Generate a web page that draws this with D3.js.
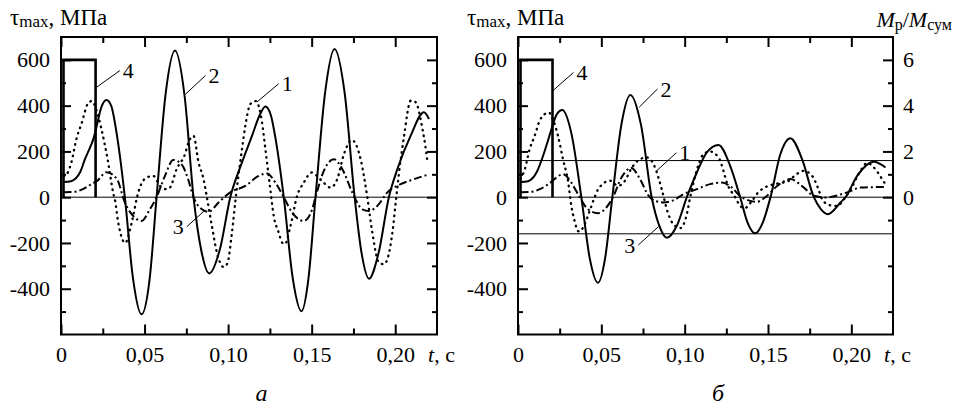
<!DOCTYPE html>
<html>
<head>
<meta charset="utf-8">
<script src="https://cdn.jsdelivr.net/npm/d3@7"></script>
<style>
  body { margin: 0; background: #fff; }
  svg { display: block; }
</style>
</head>
<body>
<svg id="chart" width="957" height="408" font-family="'Liberation Serif', 'Times New Roman', Times, serif"></svg>
<script>
const SERIF = "'Liberation Serif', 'Times New Roman', Times, serif";

// ---- axis ticks -------------------------------------------------------
const xMajor = [0, 0.05, 0.10, 0.15, 0.20];
const xMajorLabels = ["0", "0,05", "0,10", "0,15", "0,20"];
const xMinor = [0.025, 0.075, 0.125, 0.175];
const yMajor = [-400, -200, 0, 200, 400, 600];
const yMajorLabels = ["-400", "-200", "0", "200", "400", "600"];
const yMinor = [-500, -300, -100, 100, 300, 500];
const ratioLabels = ["0", "2", "4", "6"];          // M_p/M_сум on the right axis
const ratioAt = [0, 200, 400, 600];
const limitLevel = 160;                             // ±limit lines, panel б

// ---- curve 4: moment pulse (same in both panels) -----------------------
const pulse = [[0.0015, 0], [0.0015, 600], [0.0207, 600], [0.0207, 0]];

// ---- panel а: [t, τmax] ------------------------------------------------
const curve1a = [
  [0.0015, 90], [0.0042, 110], [0.0062, 152], [0.0092, 254], [0.0122, 320], [0.0162, 410],
  [0.0185, 420], [0.021, 385], [0.0242, 298], [0.0262, 230], [0.0284, 145], [0.0298, 80],
  [0.0312, 20], [0.0325, -20], [0.034, -100], [0.0355, -155], [0.0385, -200], [0.041, -150],
  [0.0432, -82], [0.0455, 0],
  [0.0472, 42], [0.051, 85], [0.0552, 93], [0.0592, 50], [0.063, 35], [0.0652, 42],
  [0.0692, 123], [0.0742, 188], [0.0763, 240], [0.0793, 268], [0.0823, 152], [0.0853, 79],
  [0.0873, 0], [0.0903, -126], [0.0933, -242], [0.0973, -305], [0.0995, -290], [0.1023, -155],
  [0.1043, -20], [0.1083, 210], [0.1103, 312], [0.1133, 407], [0.1165, 420], [0.1203, 327],
  [0.1223, 210], [0.125, 50], [0.1273, -82], [0.1303, -155], [0.1323, -198], [0.134, -205],
  [0.1373, -126], [0.1413, 6], [0.1453, 64], [0.15, 108], [0.155, 80], [0.1613, 42],
  [0.1653, 79], [0.1693, 188], [0.174, 250], [0.1793, 166], [0.1833, 0], [0.1863, -155],
  [0.1903, -286], [0.1933, -293], [0.1983, -155], [0.2003, -23], [0.2023, 108], [0.2053, 268],
  [0.2093, 422], [0.2122, 415], [0.2163, 298], [0.2183, 210], [0.2193, 152]
];
const curve2a = [
  [0.0015, 66], [0.006, 70], [0.0114, 109], [0.0144, 167], [0.0174, 218], [0.0194, 255],
  [0.0215, 315], [0.024, 390], [0.0272, 425], [0.03, 400], [0.034, 245], [0.0382, 0], [0.043, -350],
  [0.0482, -512], [0.053, -360], [0.0572, 0], [0.0625, 445], [0.0682, 641], [0.074, 440],
  [0.0793, 0], [0.084, -235], [0.0887, -333], [0.095, -230], [0.1013, 0], [0.1083, 152],
  [0.1143, 268], [0.119, 360], [0.1223, 396], [0.1255, 360], [0.128, 272], [0.1333, 0],
  [0.1386, -350], [0.1439, -498], [0.148, -360], [0.1523, 0], [0.158, 455], [0.1637, 648],
  [0.1697, 458], [0.1757, 0], [0.18, -250], [0.1843, -356], [0.19, -245], [0.1962, 0],
  [0.2013, 123], [0.2092, 268], [0.2172, 371], [0.2202, 342]
];
const curve3a = [
  [0.0015, 22], [0.0084, 24], [0.0134, 36], [0.0184, 58], [0.0214, 70], [0.0272, 109],
  [0.0334, 80], [0.0382, -23],
  [0.0442, -89], [0.0482, -104], [0.0532, -53], [0.0572, 0], [0.0622, 93], [0.0672, 163],
  [0.0725, 140], [0.076, 80], [0.0793, 0], [0.0843, -53], [0.0883, -64], [0.0943, -23],
  [0.1013, 21], [0.1103, 49], [0.1183, 93], [0.1233, 104], [0.1283, 64], [0.1333, 0],
  [0.1383, -67], [0.1453, -104], [0.1503, -53], [0.1523, 0], [0.1573, 115], [0.1633, 166],
  [0.1683, 123], [0.1743, 21], [0.1803, -53], [0.1843, -60], [0.1893, -38], [0.1953, 21],
  [0.2033, 57], [0.2113, 79], [0.2203, 100]
];

// ---- panel б: [t, τmax] ------------------------------------------------
const curve1b = [
  [0.0015, 80], [0.004, 120], [0.007, 210], [0.01, 268], [0.013, 334], [0.016, 363],
  [0.0185, 370], [0.021, 340], [0.024, 268], [0.027, 166], [0.03, 71], [0.032, -38],
  [0.034, -104], [0.036, -148], [0.037, -150], [0.04, -118], [0.043, -60], [0.046, 0],
  [0.0482, 36], [0.0552, 72], [0.06, 50], [0.064, 70], [0.068, 125],
  [0.072, 160], [0.0772, 174], [0.0822, 130], [0.0842, 87], [0.0862, 36], [0.0902, -74],
  [0.0932, -118], [0.0975, -135], [0.1013, -74], [0.1033, 0], [0.1063, 93], [0.1113, 188],
  [0.115, 200], [0.1203, 174], [0.1233, 115], [0.1253, 64], [0.1303, 0], [0.1333, -38],
  [0.136, -48], [0.14, -20], [0.144, 20], [0.15, 49], [0.156, 60], [0.162, 70],
  [0.167, 100], [0.1715, 115], [0.1765, 93], [0.18, 40], [0.1825, -9], [0.187, -35],
  [0.1915, -38], [0.196, -5], [0.2, 40], [0.2055, 115], [0.2095, 150], [0.2135, 130],
  [0.2185, 79], [0.221, 50]
];
const curve2b = [
  [0.0015, 66], [0.006, 70], [0.0114, 112], [0.015, 180], [0.0185, 260], [0.0206, 310],
  [0.0235, 365], [0.0266, 381],
  [0.032, 280], [0.038, 0], [0.043, -265], [0.048, -374], [0.0523, -265], [0.0566, 0],
  [0.062, 316], [0.0674, 447], [0.0738, 316], [0.0802, 0], [0.0848, -125], [0.0893, -177],
  [0.0953, -125], [0.1013, 0], [0.1073, 108], [0.1133, 196], [0.1203, 228], [0.1273, 137],
  [0.1333, 0], [0.1378, -112], [0.1423, -158], [0.1468, -112], [0.1515, 0], [0.1575, 190],
  [0.1634, 258], [0.1705, 165], [0.1775, 0], [0.1817, -52], [0.1859, -74], [0.1935, -23],
  [0.1965, 0], [0.2035, 93], [0.2135, 155], [0.2205, 130]
];
const curve3b = [
  [0.0015, 22], [0.0084, 24], [0.0134, 36], [0.0184, 58], [0.027, 100], [0.032, 64], [0.037, 0],
  [0.042, -53], [0.048, -70], [0.053, -45], [0.057, 0], [0.062, 85], [0.068, 128],
  [0.0732, 79], [0.078, 10], [0.083, -18], [0.0872, -23], [0.0942, -10], [0.0992, 13],
  [0.1073, 35], [0.1152, 57], [0.1222, 64], [0.1283, 42], [0.1333, 5], [0.1393, -16],
  [0.1433, -20], [0.1493, 5], [0.1555, 49], [0.1634, 79], [0.1715, 42], [0.1775, 6],
  [0.1845, -1], [0.1975, 21], [0.2055, 42], [0.2135, 44], [0.2205, 44]
];

// ---- curve numbers: [t on curve, v on curve, t at number, v at number, text, side]
const leadersA = [
  [0.0212, 480, 0.0352, 553, "4", 1],
  [0.0745, 450, 0.0865, 532, "2", 1],
  [0.1173, 416, 0.1303, 496, "1", 1],
  [0.0863, -56, 0.0753, -129, "3", -1]
];
const leadersB = [
  [0.0207, 464, 0.0333, 545, "4", 1],
  [0.0727, 393, 0.0837, 473, "2", 1],
  [0.0830, 114, 0.0950, 194, "1", 1],
  [0.0842, -129, 0.0722, -209, "3", -1]
];

// -----------------------------------------------------------------------
const svg = d3.select("#chart");
const FS = 22;
const y = d3.scaleLinear().domain([-600, 700]).range([334.5, 37]);

function panel(id, left, right, c1, c2, c3, leaders, withRatio) {
  const x = d3.scaleLinear().domain([0, 0.225]).range([left, right]);
  const g = svg.append("g").attr("id", id);
  const clip = "clip-" + id;
  svg.append("clipPath").attr("id", clip).append("rect")
    .attr("x", left).attr("y", y(700)).attr("width", right - left).attr("height", y(-600) - y(700));

  const plot = g.append("g").attr("clip-path", `url(#${clip})`);

  // reference lines
  const levels = withRatio ? [0, limitLevel, -limitLevel] : [0];
  plot.selectAll("line.level").data(levels).join("line")
    .attr("class", "level")
    .attr("x1", left).attr("x2", right)
    .attr("y1", d => y(d)).attr("y2", d => y(d))
    .attr("stroke", "#000").attr("stroke-width", 1);

  const line = d3.line().x(d => x(d[0])).y(d => y(d[1])).curve(d3.curveMonotoneX);
  const poly = d3.line().x(d => x(d[0])).y(d => y(d[1]));

  plot.append("path").attr("d", line(c3)).attr("fill", "none").attr("stroke", "#000")
    .attr("stroke-width", 2).attr("stroke-dasharray", "8,3,2,3");
  plot.append("path").attr("d", line(c1)).attr("fill", "none").attr("stroke", "#000")
    .attr("stroke-width", 2.3).attr("stroke-linecap", "round").attr("stroke-dasharray", "0.6,5.2");
  plot.append("path").attr("d", line(c2)).attr("fill", "none").attr("stroke", "#000")
    .attr("stroke-width", 2);
  plot.append("path").attr("d", poly(pulse)).attr("fill", "none").attr("stroke", "#000")
    .attr("stroke-width", 2.6);

  // curve numbers with their leader lines
  leaders.forEach(([t0, v0, t1, v1, s, side]) => {
    g.append("line").attr("x1", x(t0)).attr("y1", y(v0)).attr("x2", x(t1)).attr("y2", y(v1))
      .attr("stroke", "#000").attr("stroke-width", 1);
    g.append("text").attr("x", x(t1) + side * 3).attr("y", y(v1)).attr("dy", "0.35em")
      .attr("text-anchor", side > 0 ? "start" : "end")
      .attr("font-family", SERIF).attr("font-size", FS).text(s);
  });

  // axes: inward ticks on all four sides
  const bottom = d3.axisBottom(x).tickValues(xMajor).tickSizeInner(-10).tickSizeOuter(0)
    .tickPadding(12).tickFormat((d, i) => xMajorLabels[i]);
  const bottomMinor = d3.axisBottom(x).tickValues(xMinor).tickSizeInner(-6).tickSizeOuter(0).tickFormat("");
  const top = d3.axisTop(x).tickValues(xMajor).tickSizeInner(-10).tickSizeOuter(0).tickFormat("");
  const topMinor = d3.axisTop(x).tickValues(xMinor).tickSizeInner(-6).tickSizeOuter(0).tickFormat("");
  const leftAx = d3.axisLeft(y).tickValues(yMajor).tickSizeInner(-10).tickSizeOuter(0)
    .tickPadding(11).tickFormat((d, i) => yMajorLabels[i]);
  const leftMinor = d3.axisLeft(y).tickValues(yMinor).tickSizeInner(-5).tickSizeOuter(0).tickFormat("");
  const rightAx = d3.axisRight(y).tickValues(withRatio ? ratioAt : yMajor).tickSizeInner(-10)
    .tickSizeOuter(0).tickPadding(10)
    .tickFormat((d, i) => withRatio ? ratioLabels[i] : "");
  const rightMinor = d3.axisRight(y).tickValues(yMinor).tickSizeInner(-5).tickSizeOuter(0).tickFormat("");

  const put = (ax, tr) => {
    const a = g.append("g").attr("transform", tr).call(ax);
    a.attr("font-family", SERIF).attr("font-size", FS);
    a.select(".domain").remove();
    a.selectAll("line").attr("stroke-width", 2);
    a.selectAll("text").attr("font-family", SERIF).attr("font-size", FS);
    return a;
  };
  put(bottom, `translate(0,${y(-600)})`);
  put(bottomMinor, `translate(0,${y(-600)})`);
  put(top, `translate(0,${y(700)})`);
  put(topMinor, `translate(0,${y(700)})`);
  put(leftAx, `translate(${left},0)`);
  put(leftMinor, `translate(${left},0)`);
  put(rightAx, `translate(${right},0)`);
  put(rightMinor, `translate(${right},0)`);

  // frame
  g.append("rect").attr("x", left).attr("y", y(700)).attr("width", right - left)
    .attr("height", y(-600) - y(700)).attr("fill", "none").attr("stroke", "#000").attr("stroke-width", 2);

  // axis titles
  const yt = g.append("text").attr("x", left - 51).attr("y", 25)
    .attr("font-family", SERIF).attr("font-size", 23);
  yt.append("tspan").text("τ");
  yt.append("tspan").attr("font-size", 17).attr("dy", 2).text("max");
  yt.append("tspan").attr("dy", -2).text(", МПа");

  const xt = g.append("text").attr("x", right - 9).attr("y", 362)
    .attr("font-family", SERIF).attr("font-size", FS);
  xt.append("tspan").attr("font-style", "italic").text("t");
  xt.append("tspan").text(", с");

  if (withRatio) {
    const rt = g.append("text").attr("x", 952).attr("y", 27)
      .attr("font-family", SERIF).attr("font-size", FS).attr("text-anchor", "end");
    rt.append("tspan").attr("font-style", "italic").text("M");
    rt.append("tspan").attr("font-size", 16).attr("dy", 3).text("р");
    rt.append("tspan").attr("dy", -3).text("/");
    rt.append("tspan").attr("font-style", "italic").text("M");
    rt.append("tspan").attr("font-size", 16).attr("dy", 3).text("сум");
  }
  return x;
}

const xa = panel("pa", 61, 437, curve1a, curve2a, curve3a, leadersA, false);
const xb = panel("pb", 518, 893, curve1b, curve2b, curve3b, leadersB, true);

// panel letters
svg.append("text").attr("x", xa(0.12)).attr("y", 401).attr("text-anchor", "middle")
  .attr("font-family", SERIF).attr("font-size", 24).attr("font-style", "italic").text("а");
svg.append("text").attr("x", xb(0.12)).attr("y", 401).attr("text-anchor", "middle")
  .attr("font-family", SERIF).attr("font-size", 24).attr("font-style", "italic").text("б");
</script>
</body>
</html>
